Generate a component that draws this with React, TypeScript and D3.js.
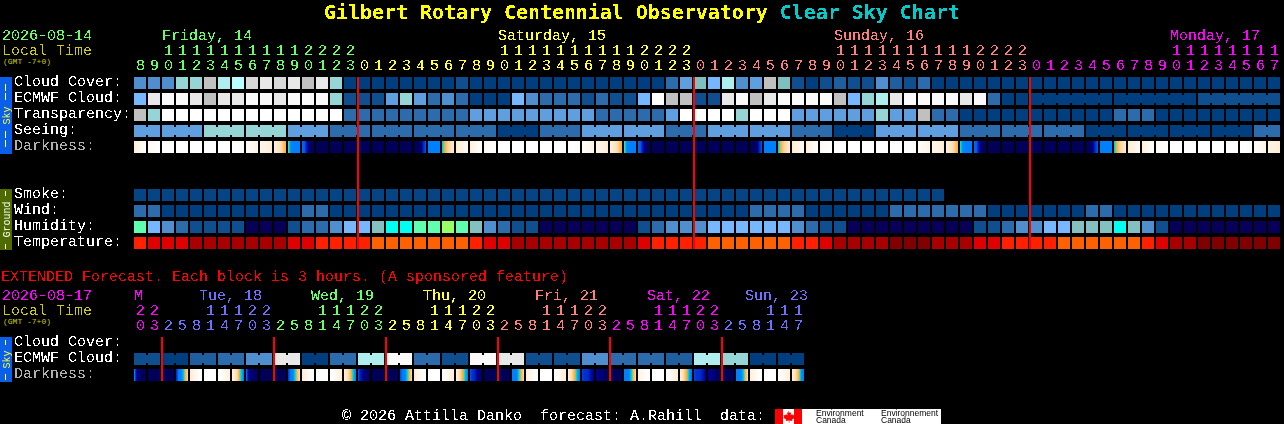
import * as d3 from "d3";

// hours along the top of the main chart, one per block
const mainHours = [
  8, 9, 10, 11, 12, 13, 14, 15, 16, 17, 18, 19, 20, 21, 22, 23,
  0, 1, 2, 3, 4, 5, 6, 7, 8, 9, 10, 11, 12, 13, 14, 15, 16, 17, 18, 19, 20, 21, 22, 23,
  0, 1, 2, 3, 4, 5, 6, 7, 8, 9, 10, 11, 12, 13, 14, 15, 16, 17, 18, 19, 20, 21, 22, 23,
  0, 1, 2, 3, 4, 5, 6, 7, 8, 9, 10, 11, 12, 13, 14, 15, 16, 17,
];
const mainMidnights = [16, 40, 64];
const mainDayLabels = ["Friday, 14", "Saturday, 15", "Sunday, 16", "Monday, 17"];
const mainDayCols = [2, 26, 50, 74];

const extHours = [
  20, 23,
  2, 5, 8, 11, 14, 17, 20, 23,
  2, 5, 8, 11, 14, 17, 20, 23,
  2, 5, 8, 11, 14, 17, 20, 23,
  2, 5, 8, 11, 14, 17, 20, 23,
  2, 5, 8, 11, 14, 17, 20, 23,
  2, 5, 8, 11, 14, 17,
];
const extMidnights = [2, 10, 18, 26, 34, 42];
const extDayLabels = ["Tue, 18", "Wed, 19", "Thu, 20", "Fri, 21", "Sat, 22", "Sun, 23"];
const extDayCols = [4, 12, 20, 28, 36, 43];

// one colour per weekday
const mainDayColors = ["#66ff66", "#ffff33", "#ff7f7f", "#ff00ff"];
const extDayColors = ["#ff00ff", "#7070ff", "#66ff66", "#ffff33", "#ff7f7f", "#ff00ff", "#7070ff"];

const skyColors = [
  "#003f7f", "#0f4f8f", "#2c6cad", "#4f8fcf", "#5f9fdf", "#77b7ff", "#95d5d5", "#aeeeee",
  "#c0c0c0", "#d8d8d8", "#e8e8e8", "#fafafa", "#ffffff", "#b8ffff", "#7fbfbf", "#1f5f9f",
  "#080058", "#85c0c0", "#00ffee", "#5fffaf", "#99ff66", "#054585",
];
const tempColors = ["#800000", "#a80000", "#e00000", "#ff2000", "#ff6000"];

const cloudCover = [
  3, 3, 3, 6, 6, 8, 7, 13, 9, 10,
  9, 10, 8, 10, 6, 0, 0, 0, 0, 0,
  0, 0, 0, 1, 0, 0, 0, 0, 0, 0,
  0, 0, 0, 0, 0, 0, 0, 0, 2, 4,
  14, 5, 7, 3, 4, 8, 14, 1, 0, 1,
  15, 1, 1, 3, 15, 1, 2, 0, 0, 0,
  0, 0, 0, 0, 0, 0, 0, 0, 0, 0,
  0, 0, 0, 0, 0, 0, 0, 0, 0, 0,
  0, 0,
];
const ecmwfCloud = [
  5, 10, 11, 11, 10, 8, 10, 10, 11, 11,
  10, 11, 11, 11, 6, 1, 1, 1, 4, 6,
  4, 2, 3, 2, 0, 0, 0, 5, 3, 2,
  2, 2, 1, 2, 1, 1, 5, 12, 8, 8,
  1, 1, 10, 11, 8, 10, 11, 11, 11, 11,
  8, 5, 6, 7, 10, 11, 11, 11, 11, 10,
  11, 2, 0, 0, 0, 0, 0, 0, 0, 0,
  0, 0, 0, 0, 0, 0, 1, 1, 1, 1,
  1, 1,
];
const transparency = [
  8, 6, 12, 12, 12, 12, 12, 12, 12, 12,
  12, 12, 12, 12, 12, 2, 2, 2, 2, 2,
  2, 2, 2, 2, 4, 4, 4, 4, 4, 4,
  4, 4, 4, 2, 2, 2, 2, 2, 4, 12,
  12, 12, 12, 6, 12, 12, 12, 4, 4, 4,
  4, 4, 4, 6, 4, 4, 8, 2, 2, 0,
  0, 0, 0, 0, 0, 0, 0, 0, 0, 0,
  2, 2, 2, 0, 0, 0, 0, 0, 0, 0,
  0, 0,
];
const seeing = [
  4, 4, 4, 4, 4, 6, 6, 6, 6, 6,
  6, 4, 4, 4, 2, 2, 2, 2, 2, 2,
  2, 2, 2, 2, 2, 2, 0, 0, 0, 2,
  2, 2, 4, 4, 4, 4, 4, 4, 2, 2,
  2, 4, 4, 4, 4, 4, 4, 2, 2, 2,
  0, 0, 0, 4, 4, 4, 4, 4, 4, 2,
  2, 2, 2, 2, 2, 2, 2, 2, 0, 0,
  0, 0, 0, 0, 0, 0, 0, 0, 0, 0,
  2, 2,
];
const smoke = [
  21, 21, 21, 21, 21, 21, 21, 21, 21, 21,
  21, 21, 21, 21, 21, 21, 21, 21, 21, 21,
  21, 21, 21, 21, 21, 21, 21, 21, 21, 21,
  21, 21, 21, 21, 21, 21, 21, 21, 21, 21,
  21, 21, 21, 21, 21, 21, 21, 21, 21, 21,
  21, 21, 21, 21, 21, 21, 21, 21,
];
const wind = [
  2, 2, 0, 0, 0, 0, 0, 0, 0, 0,
  0, 0, 2, 2, 0, 0, 0, 0, 0, 0,
  0, 0, 0, 0, 0, 0, 0, 0, 0, 0,
  0, 0, 0, 0, 0, 0, 0, 0, 0, 0,
  0, 0, 0, 0, 2, 2, 2, 2, 0, 0,
  0, 0, 0, 0, 2, 2, 2, 2, 2, 2,
  2, 0, 0, 0, 0, 0, 0, 0, 2, 2,
  0, 0, 0, 0, 0, 0, 0, 0, 0, 0,
  0, 0,
];
const humidity = [
  19, 5, 3, 2, 1, 1, 1, 1, 16, 16,
  16, 1, 2, 2, 3, 5, 5, 17, 18, 18,
  19, 19, 20, 19, 17, 3, 2, 1, 1, 16,
  16, 16, 16, 16, 16, 16, 1, 2, 3, 3,
  3, 5, 5, 5, 5, 5, 5, 3, 2, 1,
  1, 16, 16, 16, 16, 16, 16, 16, 16, 16,
  1, 1, 2, 3, 3, 5, 5, 17, 17, 17,
  18, 17, 3, 1, 16, 16, 16, 16, 16, 16,
  16, 16,
];
const temperature = [
  3, 2, 2, 2, 1, 1, 1, 1, 1, 1,
  1, 2, 2, 3, 3, 3, 3, 4, 4, 4,
  4, 4, 4, 4, 3, 2, 2, 1, 1, 1,
  1, 1, 1, 1, 1, 1, 2, 3, 3, 3,
  3, 4, 4, 4, 4, 4, 4, 3, 3, 2,
  1, 1, 1, 1, 0, 0, 0, 1, 1, 1,
  2, 2, 3, 3, 3, 3, 4, 4, 4, 4,
  4, 4, 3, 2, 1, 1, 0, 0, 0, 0,
  0, 0,
];
const extEcmwf = [
  1, 1, 0, 0, 15, 15, 2, 2, 3, 3, 10, 10,
  0, 0, 2, 2, 7, 7, 11, 11, 2, 2, 1, 1,
  11, 11, 10, 10, 1, 1, 1, 1, 3, 3, 2, 2,
  2, 2, 15, 15, 7, 7, 6, 6, 0, 0, 0, 0,
];

// blocks that share a forecast period and so get joined together
const seeingRuns = [2, 3, 3, 3, 3, 3, 3, 3, 3, 3, 3, 3, 3, 3, 3, 3, 3, 3, 3, 3, 3, 3, 3, 3, 3, 3, 3, 2];
const ecmwfRuns = [...Array(64).fill(1), 6, 6, 6];
const extRuns = Array(24).fill(2);

// darkness: 6 samples per block along a white (0) -> orange (3) -> blue (5) -> navy (8) ramp
const W = [0, 0, 0, 0, 0, 0];
const N = [8, 8, 8, 8, 8, 8];
const B = [5, 5, 5, 5, 5, 5];
const darkness = [
  [1, 0.8, 0.6, 0.4, 0.2, 0.1], [0.4, 0.3, 0.2, 0.1, 0, 0], W, W, W, W, W,
  [0, 0, 0, 0.1, 0.2, 0.3], [0.2, 0.3, 0.4, 0.5, 0.6, 0.7], [0.6, 0.7, 0.8, 0.9, 1, 1.2],
  [1.1, 1.2, 1.5, 1.9, 2.5, 3], [3.5, 4.9, 5, 5, 5, 5], [5.3, 5.5, 6.7, 7.4, 7.8, 8],
  N, N, N, N, N, N, N,
  [8, 8, 8, 7.6, 6.2, 5.6], B, [4.1, 3.1, 2.5, 2, 1.6, 1.3], [1.2, 1, 0.9, 0.7, 0.5, 0.4],
  [1, 0.8, 0.6, 0.4, 0.2, 0.1], [0.4, 0.3, 0.2, 0.1, 0, 0], W, W, W, W, W,
  [0, 0, 0, 0.1, 0.2, 0.3], [0.2, 0.3, 0.4, 0.5, 0.6, 0.7], [0.6, 0.7, 0.8, 0.9, 1, 1.2],
  [1.1, 1.2, 1.5, 1.9, 2.5, 3], [3.6, 4.9, 5, 5, 5, 5], [5.3, 5.5, 6.7, 7.4, 7.8, 8],
  N, N, N, N, N, N, N,
  [8, 8, 8, 7.6, 6.2, 5.6], B, [4.1, 3.1, 2.5, 2, 1.6, 1.3], [1.2, 1, 0.9, 0.7, 0.5, 0.4],
  [1, 0.8, 0.6, 0.4, 0.2, 0.1], [0.4, 0.3, 0.2, 0.1, 0, 0], W, W, W, W, W,
  [0, 0, 0, 0.1, 0.2, 0.3], [0.2, 0.3, 0.4, 0.5, 0.6, 0.7], [0.6, 0.7, 0.8, 0.9, 1, 1.2],
  [1.1, 1.2, 1.5, 1.9, 2.5, 3], [3.9, 4.9, 5, 5, 5, 5], [5.3, 5.5, 6.7, 7.4, 7.8, 8],
  N, N, N, N, N, N, N,
  [8, 8, 7.8, 7, 6, 5.5], B, [4.1, 3.1, 2.5, 2, 1.6, 1.3], [1.2, 1, 0.9, 0.7, 0.5, 0.4],
  [1, 0.8, 0.6, 0.4, 0.2, 0.1], [0.4, 0.3, 0.2, 0.1, 0, 0], W, W, W, W, W,
  [0, 0, 0, 0.1, 0.2, 0.3], [0.2, 0.3, 0.4, 0.5, 0.6, 0.7], [0.8, 0.9, 1, 1, 1.1, 1.1],
];
const extDarkness = [
  [5, 7, 7.5, 7.8, 8, 8], N, [8, 8, 8, 8, 8, 7.8], [6, 5, 5, 4.5, 3, 2.3],
  [1.2, 0.9, 0.6, 0.4, 0.1, 0], W, [0, 0, 0.2, 0.5, 0.8, 1], [1, 1.3, 2, 3, 4.2, 5],
  [5.3, 7, 7.4, 7.7, 7.8, 8], N, N, [5.8, 5, 5, 4, 2.8, 2],
  [1.2, 0.8, 0.6, 0.3, 0.1, 0], W, [0, 0.1, 0.3, 0.6, 0.9, 1.1], [1.1, 1.5, 2.2, 3, 4.2, 5],
  [5.7, 6.5, 7, 7.5, 7.8, 8], N, N, [5.6, 5, 5, 4.2, 3, 2.1],
  [1.2, 0.8, 0.5, 0.3, 0.1, 0], W, [0, 0.2, 0.4, 0.7, 0.9, 1], [1, 1.5, 2.4, 3.1, 4.3, 5],
  [5.6, 6, 6.3, 7, 7.4, 7.8], N, N, [5, 5, 5, 3.9, 3, 2.1],
  [1, 0.7, 0.5, 0.3, 0.1, 0], W, [0, 0.2, 0.4, 0.7, 0.9, 1], [1.1, 1.6, 2.4, 3.2, 4.5, 5],
  [5.8, 6, 6, 6.3, 6.8, 7], [7, 7.2, 7.4, 7.6, 7.8, 8], N, [5, 5, 5, 4.3, 3, 2.2],
  [1, 0.6, 0.4, 0.2, 0, 0], W, [0, 0.2, 0.4, 0.7, 0.9, 1.1], [1.2, 1.6, 2.5, 3.2, 4.6, 5.2],
  [5.8, 6, 6, 6.2, 6.6, 7], [7, 7, 7.3, 7.6, 7.9, 8], N, [5, 5, 5, 4.4, 3, 2.1],
  [1, 0.8, 0.5, 0.3, 0.1, 0], W, [0, 0.2, 0.4, 0.6, 0.9, 1], [1.2, 1.6, 2.4, 3.2, 4.8, 5],
];

const MONO = "'Liberation Mono', monospace";
const BLOCK = 12;
const ROW = 16;

const x = d3.scaleLinear().domain([0, 1]).range([134, 148]);
const rowY = d3.scaleLinear().domain([0, 1]).range([77, 77 + ROW]);
const groundY = d3.scaleLinear().domain([0, 1]).range([189, 189 + ROW]);
const extY = d3.scaleLinear().domain([0, 1]).range([337, 337 + ROW]);
const darkRamp = d3
  .scaleLinear<string>()
  .domain([0, 1, 2, 3, 4, 5, 6, 7, 8])
  .range(["#ffffff", "#fff0dc", "#ffd8a8", "#ffb040", "#00d8d0", "#0080ff", "#0030d0", "#000090", "#000058"]);
const mainDayColor = d3.scaleThreshold<number, string>().domain(mainMidnights).range(mainDayColors);
const extDayColor = d3.scaleThreshold<number, string>().domain(extMidnights).range(extDayColors);

function Blocks({ values, colors, y, runs }: { values: number[]; colors: string[]; y: number; runs?: number[] }) {
  // which run each block belongs to
  const runOf = runs ? runs.flatMap((n, r) => Array(n).fill(r)) : null;
  return (
    <g shapeRendering="crispEdges">
      {values.map((v, i) => (
        <g key={i} fill={colors[v]}>
          <rect x={x(i)} y={y} width={BLOCK} height={BLOCK} />
          {runOf && i + 1 < values.length && runOf[i] === runOf[i + 1] && (
            <rect x={x(i) + BLOCK} y={y + 2} width={x(1) - x(0) - BLOCK} height={BLOCK - 4} />
          )}
        </g>
      ))}
    </g>
  );
}

function DarkBlocks({ samples, y }: { samples: number[][]; y: number }) {
  const strips = d3.range(BLOCK);
  return (
    <g shapeRendering="crispEdges">
      {samples.map((s, i) => {
        const along = d3.scaleLinear().domain([0, BLOCK - 1]).range([0, s.length - 1]);
        return strips.map((p) => {
          const pos = along(p);
          const lo = Math.floor(pos);
          const hi = Math.min(lo + 1, s.length - 1);
          const v = d3.interpolateNumber(s[lo], s[hi])(pos - lo);
          return <rect key={`${i}-${p}`} x={x(i) + p} y={y} width={1} height={BLOCK} fill={darkRamp(v)} />;
        });
      })}
    </g>
  );
}

function HourLabels({ hours, color, y }: { hours: number[]; color: (i: number) => string; y: number }) {
  // whole-pixel starts keep every digit the same weight after the threshold filter
  return (
    <g>
      {hours.map((h, i) => (
        <g key={i} fill={color(i)}>
          {h >= 10 && <text x={x(i) + 2} y={y}>{Math.floor(h / 10)}</text>}
          <text x={x(i) + 2} y={y + 15}>{h % 10}</text>
        </g>
      ))}
    </g>
  );
}

function SideBar({ y, height, fill, color, label, dashes }: {
  y: number; height: number; fill: string; color: string; label: string; dashes: number[][];
}) {
  const mid = y + height / 2;
  return (
    <g>
      <rect x={0} y={y} width={12} height={height} fill={fill} shapeRendering="crispEdges" />
      <text transform={`translate(9.5,${mid}) rotate(-90)`} textAnchor="middle" fill={color} fontSize={10}>{label}</text>
      {dashes.map(([a, b]) => (
        <line key={a} x1={5.5} x2={5.5} y1={a} y2={b} stroke={color} strokeWidth={1} shapeRendering="crispEdges" />
      ))}
    </g>
  );
}

const RED_LINE = "#ff0000";

export default function App() {
  const labelRows = ["Cloud Cover:", "ECMWF Cloud:", "Transparency:", "Seeing:", "Darkness:"];
  const groundRows = ["Smoke:", "Wind:", "Humidity:", "Temperature:"];
  const extRows = ["Cloud Cover:", "ECMWF Cloud:", "Darkness:"];
  return (
    <>
      <style>{"body{margin:0;background:#000}"}</style>
      <svg width={1284} height={424} style={{ display: "block", background: "#000" }} fontFamily={MONO} fontSize={15}>
        <defs>
          <filter id="px" x="0" y="0" width="1284" height="424" filterUnits="userSpaceOnUse" colorInterpolationFilters="sRGB">
            <feComponentTransfer>
              <feFuncA type="discrete" tableValues="0 0 1 1" />
            </feComponentTransfer>
          </filter>
        </defs>

        <Blocks values={cloudCover} colors={skyColors} y={rowY(0)} />
        <Blocks values={ecmwfCloud} colors={skyColors} y={rowY(1)} runs={ecmwfRuns} />
        <Blocks values={transparency} colors={skyColors} y={rowY(2)} />
        <Blocks values={seeing} colors={skyColors} y={rowY(3)} runs={seeingRuns} />
        <DarkBlocks samples={darkness} y={rowY(4)} />
        <Blocks values={smoke} colors={skyColors} y={groundY(0)} />
        <Blocks values={wind} colors={skyColors} y={groundY(1)} />
        <Blocks values={humidity} colors={skyColors} y={groundY(2)} />
        <Blocks values={temperature} colors={tempColors} y={groundY(3)} />
        <Blocks values={extEcmwf} colors={skyColors} y={extY(1)} runs={extRuns} />
        <DarkBlocks samples={extDarkness} y={extY(2)} />

        <g fill={RED_LINE} shapeRendering="crispEdges">
          {mainMidnights.map((m) => (
            <rect key={m} x={x(m) - 1} y={rowY(0)} width={2} height={groundY(3) + BLOCK - rowY(0)} />
          ))}
          {extMidnights.map((m) => (
            <rect key={m} x={x(m) - 1} y={extY(0)} width={2} height={extY(2) + BLOCK - extY(0)} />
          ))}
        </g>

        <text x={324} y={19} fontSize={19.93} fontFamily="'DejaVu Sans Mono', monospace" fontWeight="bold" fill="#ffff00" filter="url(#px)">
          Gilbert Rotary Centennial Observatory <tspan fill="#00cccc">Clear Sky Chart</tspan>
        </text>

        <text x={3} y={64} fill="#cccc00" fontSize={8}>(GMT -7+0)</text>
        <text x={3} y={324} fill="#cccc00" fontSize={8}>(GMT -7+0)</text>

        <g filter="url(#px)">
          <text x={2} y={40} fill="#66ff66">2026-08-14</text>
          <text x={2} y={55} fill="#cccc00">Local Time</text>
          {mainDayLabels.map((d, i) => (
            <text key={d} x={x(mainDayCols[i])} y={40} fill={mainDayColors[i]}>{d}</text>
          ))}
          <HourLabels hours={mainHours} color={(i) => mainDayColor(i)} y={55} />

          <g fill="#ffffff">
            {labelRows.map((l, i) => (
              <text key={l} x={14} y={rowY(i) + 9} fill={l === "Darkness:" ? "#b0b0b0" : "#ffffff"}>{l}</text>
            ))}
            {groundRows.map((l, i) => (
              <text key={l} x={14} y={groundY(i) + 9}>{l}</text>
            ))}
          </g>

          <SideBar y={77} height={77} fill="#0a5fe8" color="#ffff33" label="Sky" dashes={[[84, 91], [93, 100], [131, 138], [140, 147]]} />
          <SideBar y={189} height={61} fill="#4f6b00" color="#ffffff" label="Ground" dashes={[[191, 196], [244, 249]]} />
          <SideBar y={337} height={45} fill="#0a5fe8" color="#ffff33" label="Sky" dashes={[[340, 345], [374, 380]]} />

          <text x={1} y={281} fill="#ff0000">EXTENDED Forecast. Each block is 3 hours. (A sponsored feature)</text>
          <text x={2} y={300} fill="#ff00ff">2026-08-17</text>
          <text x={2} y={315} fill="#cccc00">Local Time</text>
          <text x={x(0)} y={300} fill="#ff00ff">M</text>
          {extDayLabels.map((d, i) => (
            <text key={d} x={x(extDayCols[i]) + 9} y={300} fill={extDayColors[i + 1]}>{d}</text>
          ))}
          <HourLabels hours={extHours} color={(i) => extDayColor(i)} y={315} />

          {extRows.map((l, i) => (
            <text key={l} x={14} y={extY(i) + 9} fill={l === "Darkness:" ? "#b0b0b0" : "#ffffff"}>{l}</text>
          ))}

          <text x={342} y={420} fill="#ffffff" xmlSpace="preserve">© 2026 Attilla Danko  forecast: A.Rahill  data:</text>
        </g>

        <g>
          <rect x={775} y={409} width={166} height={15} fill="#ffffff" shapeRendering="crispEdges" />
          <rect x={775} y={409} width={8} height={15} fill="#ff0000" shapeRendering="crispEdges" />
          <rect x={794} y={409} width={8} height={15} fill="#ff0000" shapeRendering="crispEdges" />
          <path
            d="M788.5 410.5 l1.3 2.5 1.4-.7 -.5 3 1.6-1.2 .5 1.2 1.9-.3 -.6 2 .9.5 -3 2.3 .4 1.2 -3-.4 v2.2 h-.6 v-2.2 l-3 .4 .4-1.2 -3-2.3 .9-.5 -.6-2 1.9.3 .5-1.2 1.6 1.2 -.5-3 1.4.7z"
            fill="#ff0000"
          />
          <g fontFamily="'Liberation Sans', sans-serif" fontSize={8.5} fill="#000000">
            <text x={816} y={415.5}>Environment</text>
            <text x={816} y={423}>Canada</text>
            <text x={881} y={415.5}>Environnement</text>
            <text x={881} y={423}>Canada</text>
          </g>
        </g>
      </svg>
    </>
  );
}
